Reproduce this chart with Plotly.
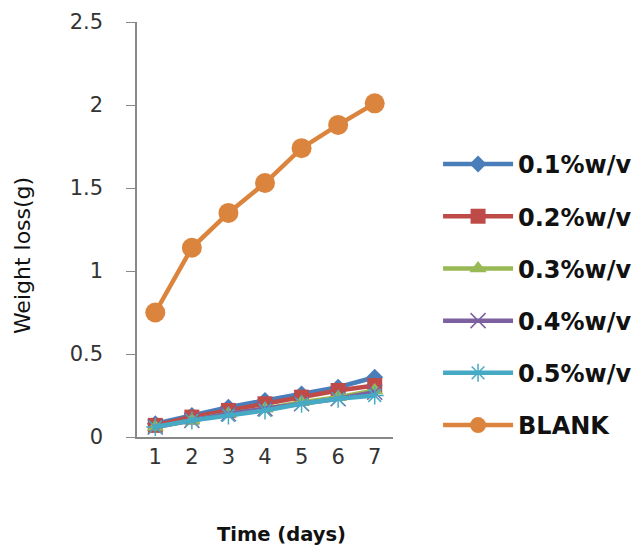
import plotly.graph_objects as go

days = [1, 2, 3, 4, 5, 6, 7]
s01 = [0.08, 0.13, 0.18, 0.22, 0.26, 0.30, 0.36]
s02 = [0.07, 0.12, 0.16, 0.20, 0.24, 0.28, 0.31]
s03 = [0.06, 0.10, 0.14, 0.17, 0.21, 0.24, 0.28]
s04 = [0.06, 0.10, 0.14, 0.17, 0.20, 0.23, 0.27]
s05 = [0.06, 0.10, 0.13, 0.16, 0.20, 0.23, 0.25]
blank = [0.75, 1.14, 1.35, 1.53, 1.74, 1.88, 2.01]

names = ["0.1%w/v", "0.2%w/v", "0.3%w/v", "0.4%w/v", "0.5%w/v", "BLANK"]
colors = ["#4A7EBB", "#BE4B48", "#98B954", "#7D60A0", "#46AAC5", "#DB843D"]
symbols = ["diamond", "square", "triangle-up", "x-thin-open", "asterisk-open", "circle"]
sizes = [13, 15, 15, 15, 15, 20]
series = [s01, s02, s03, s04, s05, blank]

fig = go.Figure()
for i, (nm, ys) in enumerate(zip(names, series)):
    mk = dict(symbol=symbols[i], size=sizes[i], color=colors[i])
    if symbols[i].endswith("open"):
        mk["line"] = dict(color=colors[i], width=1.5)
    fig.add_trace(go.Scatter(
        x=days, y=ys, name=nm, mode="lines+markers",
        line=dict(color=colors[i], width=4.5),
        marker=mk, legendgroup=nm,
    ))

ff = "DejaVu Sans, sans-serif"
fig.update_layout(
    width=641, height=547,
    margin=dict(l=129, r=256, t=14, b=118),
    paper_bgcolor="white", plot_bgcolor="white",
    font=dict(family=ff, size=22, color="#333"),
    showlegend=True,
    legend=dict(x=1.176, xanchor="left", y=0.711, yanchor="top",
                font=dict(family=ff, size=24, color="#111", weight="bold"),
                tracegroupgap=18, itemwidth=70, bgcolor="rgba(0,0,0,0)"),
    xaxis=dict(range=[0.5, 7.5], tickvals=days, ticktext=[str(d) for d in days],
               showline=True, linecolor="#888", linewidth=1.5, ticks="",
               showgrid=False, zeroline=False, automargin=False,
               tickfont=dict(family=ff, size=21, color="#333")),
    yaxis=dict(range=[0, 2.5], dtick=0.5, showline=True, linecolor="#888",
               linewidth=1.5, ticks="outside", ticklen=9, tickcolor="#888",
               ticklabelstandoff=19,
               showgrid=False, zeroline=False, automargin=False,
               tickfont=dict(family=ff, size=21, color="#333")),
    annotations=[
        dict(text="<b>Time (days)</b>", xref="paper", yref="paper",
             x=0.5625, y=-0.236, xanchor="center", yanchor="middle",
             showarrow=False, font=dict(family=ff, size=19.5, color="#111")),
        dict(text="Weight loss(g)", xref="paper", yref="paper",
             x=-0.449, y=0.436, xanchor="center", yanchor="middle",
             textangle=-90, showarrow=False,
             font=dict(family=ff, size=22, color="#111")),
    ],
)
fig.write_html("out.html")
